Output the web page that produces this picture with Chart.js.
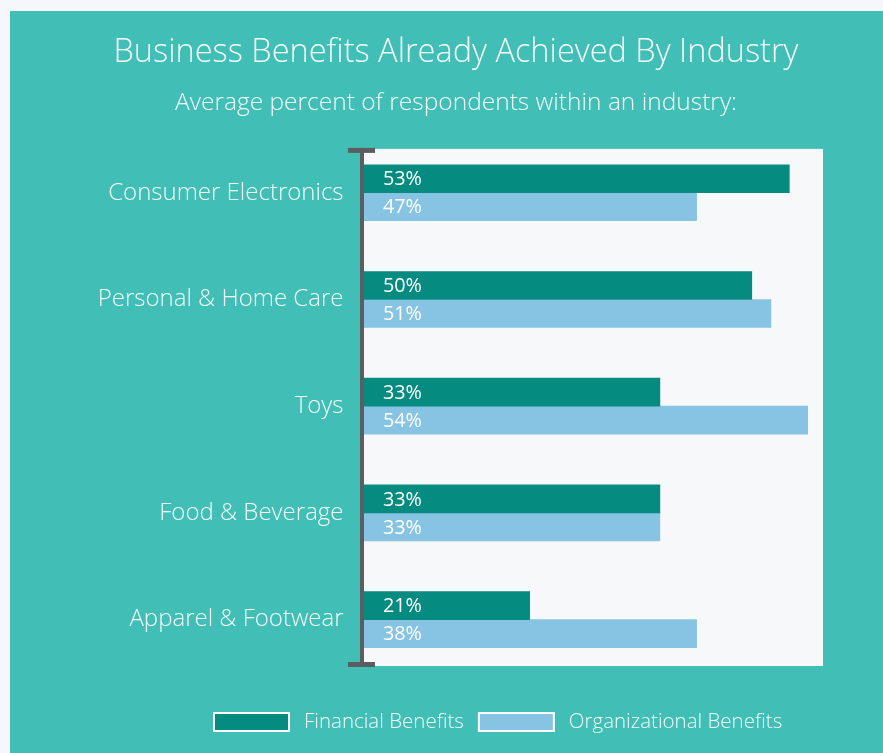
<!DOCTYPE html>
<html>
<head>
<meta charset="utf-8">
<title>Business Benefits Already Achieved By Industry</title>
<script src="https://cdn.jsdelivr.net/npm/chart.js@4.4.1/dist/chart.umd.min.js"></script>
<style>
  html, body { margin: 0; padding: 0; overflow: hidden; }
  body { background: #f5f7fa; width: 883px; height: 753px; }
  #panel { position: absolute; left: 10px; top: 11px; width: 873px; height: 742px; background: #41bfb6; }
</style>
</head>
<body>
<div id="panel"><canvas id="benefitChart"></canvas></div>
<script>
const industries = ["Consumer Electronics", "Personal & Home Care", "Toys", "Food & Beverage", "Apparel & Footwear"];
// bar lengths as drawn (the printed percentages do not match them)
const financialBars = [55.6, 50.7, 38.7, 38.7, 21.7];
const organizationalBars = [43.5, 53.2, 58.0, 38.7, 43.5];
const financialText = ["53%", "50%", "33%", "33%", "21%"];
const organizationalText = ["47%", "51%", "54%", "33%", "38%"];
const seriesNames = ["Financial Benefits", "Organizational Benefits"];
const seriesColors = ["#058b80", "#87c4e4"];

const FONT = "'Open Sans', sans-serif";
const TEXT = "#f4fbfa";

const decor = {
  id: "decor",
  beforeDatasetsDraw(chart) {
    const { ctx, chartArea } = chart;
    ctx.save();
    ctx.fillStyle = "#f6f8fa";
    ctx.fillRect(chartArea.left - 0.5, chartArea.top + 9.5, chartArea.right - chartArea.left + 0.5, chartArea.bottom - chartArea.top - 16.5);
    ctx.restore();
  },
  afterDatasetsDraw(chart) {
    const { ctx, chartArea } = chart;
    const top = chartArea.top + 8.5, bottom = chartArea.bottom - 6;
    ctx.save();
    ctx.fillStyle = "#5b5e61";
    ctx.fillRect(chartArea.left - 3.5, top, 4, bottom - top);
    ctx.fillRect(chartArea.left - 15.5, top, 27, 5);
    ctx.fillRect(chartArea.left - 15.5, bottom - 5, 27, 5);
    // value labels inside the bars
    ctx.fillStyle = "#ffffff";
    ctx.font = "19.8px " + FONT;
    ctx.textBaseline = "middle";
    const texts = [financialText, organizationalText];
    chart.data.datasets.forEach((ds, d) => {
      chart.getDatasetMeta(d).data.forEach((bar, i) => {
        ctx.fillText(texts[d][i], chartArea.left + 19.5, bar.y + 1);
      });
    });
    ctx.restore();
  },
  afterDraw(chart) {
    // legend
    const { ctx } = chart;
    ctx.save();
    ctx.font = "300 20.5px " + FONT;
    ctx.textBaseline = "alphabetic";
    let x = 204;
    chart.data.datasets.forEach(ds => {
      ctx.fillStyle = ds.backgroundColor;
      ctx.fillRect(x, 702, 75, 18);
      ctx.strokeStyle = "#ffffff";
      ctx.lineWidth = 2;
      ctx.strokeRect(x, 702, 75, 18);
      ctx.fillStyle = TEXT;
      ctx.fillText(ds.label, x + 90, 716.5);
      x += 90 + ctx.measureText(ds.label).width + 15;
    });
    ctx.restore();
  }
};

const chart = new Chart(document.getElementById("benefitChart").getContext("2d"), {
  type: "bar",
  data: {
    labels: industries,
    datasets: [
      { label: seriesNames[0], data: financialBars, backgroundColor: seriesColors[0] },
      { label: seriesNames[1], data: organizationalBars, backgroundColor: seriesColors[1] }
    ]
  },
  options: {
    indexAxis: "y",
    responsive: true,
    maintainAspectRatio: false,
    animation: false,
    barThickness: 28,
    layout: { padding: { left: 79, right: 60, bottom: 80 } },
    plugins: {
      legend: { display: false },
      tooltip: { enabled: false },
      title: {
        display: true,
        text: "Business Benefits Already Achieved By Industry",
        color: TEXT,
        font: { family: FONT, size: 32.5, weight: 300 },
        padding: { top: 22, bottom: 16 }
      },
      subtitle: {
        display: true,
        text: "Average percent of respondents within an industry:",
        color: TEXT,
        font: { family: FONT, size: 24.5, weight: 300 },
        padding: { top: 0, bottom: 22 }
      }
    },
    scales: {
      x: { display: false, min: 0, max: 60 },
      y: {
        grid: { display: false, drawTicks: false },
        border: { display: false },
        ticks: { color: TEXT, padding: 20, font: { family: FONT, size: 24, weight: 300 } },
        afterFit(scale) { scale.width = 274.5; }
      }
    }
  },
  plugins: [decor]
});
</script>
</body>
</html>
